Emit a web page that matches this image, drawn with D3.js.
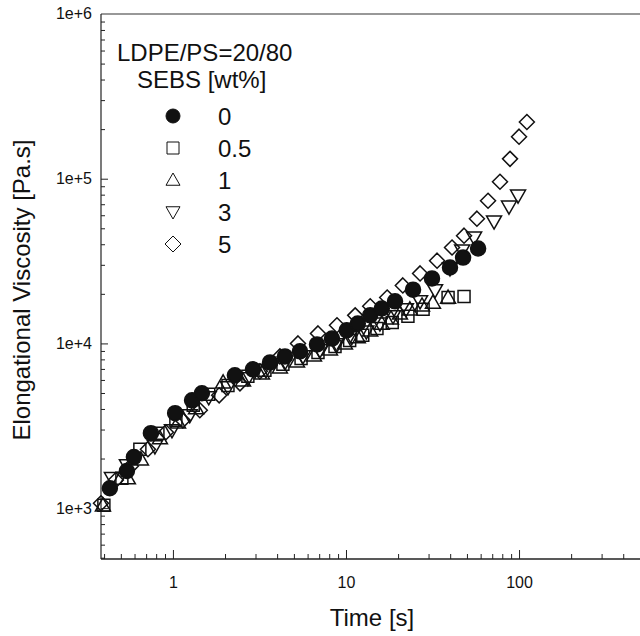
<!DOCTYPE html>
<html>
<head>
<meta charset="utf-8">
<script src="https://cdn.jsdelivr.net/npm/d3@7"></script>
<style>
    body { margin: 0; background: #fff; }
    text { font-family: "Liberation Sans", Arial, sans-serif; fill: #111; }
</style>
</head>
<body>
<script>
// Elongational viscosity vs time, LDPE/PS=20/80 with SEBS

// values
var seriesNames = ["0", "0.5", "1", "3", "5"];

var time0 = [0.432, 0.542, 0.595, 0.746, 1.03, 1.29, 1.47, 2.28, 2.90, 3.64,
    4.44, 5.42, 6.80, 8.30, 10.1, 11.7, 13.8, 16.1, 19.2, 24.4, 31.4, 39.9,
    47.5, 58.0];
var eta0 = [1320, 1680, 2040, 2850, 3770, 4510, 4980, 6400, 6960, 7670,
    8340, 8950, 9860, 10700, 12000, 13200, 14800, 16300, 18000, 21200, 24800,
    28900, 33200, 37700];

var time05 = [0.399, 0.507, 0.644, 0.819, 1.04, 1.31, 1.61, 2.08, 2.71, 3.40,
    4.32, 5.50, 6.89, 8.64, 10.5, 12.5, 15.1, 18.5, 22.8, 27.9, 38.9, 48.1];
var eta05 = [1040, 1520, 2280, 2850, 3410, 4210, 4910, 5560, 6310, 6860,
    7460, 8110, 8820, 9590, 10400, 11200, 12300, 13400, 14600, 16100, 19000,
    19300];

var time1 = [0.394, 0.549, 0.653, 0.841, 1.07, 1.36, 1.95, 2.54, 3.27, 4.15,
    5.21, 6.53, 8.08, 9.86, 11.7, 13.8, 16.1, 18.2, 20.5, 23.4, 27.5, 31.8,
    38.9];
var eta1 = [1040, 1520, 1980, 2660, 3320, 4040, 5800, 5970, 6580, 7160,
    7780, 8460, 9200, 10000, 10900, 12000, 13200, 14200, 15200, 16100, 17000,
    17700, 19000];

var time3 = [0.444, 0.542, 0.787, 0.987, 1.25, 1.61, 2.08, 2.71, 3.45, 4.44,
    5.64, 7.07, 8.87, 10.8, 13.1, 15.7, 18.7, 22.2, 26.8, 32.7, 39.9, 46.9,
    55.0, 71.7, 87.5, 98.7];
var eta3 = [1520, 1820, 2370, 2970, 3660, 4710, 5410, 6140, 6860, 7670,
    8340, 9070, 9860, 10900, 11800, 13200, 14600, 16100, 18000, 21000, 28500,
    36600, 43900, 54900, 67600, 78900];

var time5 = [0.384, 0.468, 0.572, 0.717, 0.911, 1.14, 1.43, 1.85, 2.44, 3.18,
    4.15, 5.28, 6.89, 8.87, 11.3, 13.8, 17.3, 21.3, 26.8, 33.6, 41.0, 48.1,
    57.1, 66.2, 77.6, 88.7, 100, 111];
var eta5 = [1070, 1480, 1800, 2280, 2890, 3410, 3930, 4840, 5720, 6770,
    8340, 10000, 11500, 12900, 14800, 16800, 19000, 22500, 26600, 31800,
    38200, 45100, 57200, 73500, 95900, 132000, 180000, 221000];

var xTicks = [1, 10, 100];
var yTicks = [1e3, 1e4, 1e5, 1e6];
var yTickLabels = ["1e+3", "1e+4", "1e+5", "1e+6"];

// layout
var W = 640, H = 636;
var plot = {left: 101, right: 640, top: 14, bottom: 559};

var svg = d3.select("body").append("svg")
    .attr("width", W)
    .attr("height", H);

var x = d3.scaleLog().domain([0.384, 500]).range([plot.left, plot.right]);
var y = d3.scaleLog().domain([491, 1e6]).range([plot.bottom, plot.top]);

// marker paths, centred on 0,0
function shapePath(kind, s) {
    var h = s / 2;
    if (kind === "circle") {
        return "M" + (-h) + ",0A" + h + "," + h + " 0 1,0 " + h + ",0A" +
            h + "," + h + " 0 1,0 " + (-h) + ",0Z";
    }
    if (kind === "square") {
        return "M" + (-h) + "," + (-h) + "H" + h + "V" + h + "H" + (-h) + "Z";
    }
    if (kind === "up") {
        return "M0," + (-h) + "L" + h + "," + (h * 0.75) + "L" + (-h) + "," +
            (h * 0.75) + "Z";
    }
    if (kind === "down") {
        return "M0," + h + "L" + h + "," + (-h * 0.75) + "L" + (-h) + "," +
            (-h * 0.75) + "Z";
    }
    return "M0," + (-h) + "L" + h + ",0L0," + h + "L" + (-h) + ",0Z";
}

var series = [
    {name: "5", kind: "diamond", t: time5, v: eta5, size: 15, fill: "none"},
    {name: "3", kind: "down", t: time3, v: eta3, size: 15, fill: "none"},
    {name: "1", kind: "up", t: time1, v: eta1, size: 15, fill: "none"},
    {name: "0.5", kind: "square", t: time05, v: eta05, size: 12, fill: "none"},
    {name: "0", kind: "circle", t: time0, v: eta0, size: 15, fill: "#111"}
];

// axes lines
svg.append("line")
    .attr("x1", plot.left).attr("x2", plot.right)
    .attr("y1", plot.bottom).attr("y2", plot.bottom)
    .attr("stroke", "#222").attr("stroke-width", 1.5);
svg.append("line")
    .attr("x1", plot.left).attr("x2", plot.right)
    .attr("y1", plot.top).attr("y2", plot.top)
    .attr("stroke", "#333").attr("stroke-width", 1.2);
svg.append("line")
    .attr("x1", plot.left).attr("x2", plot.left)
    .attr("y1", plot.top).attr("y2", plot.bottom)
    .attr("stroke", "#222").attr("stroke-width", 1.2);

// tick marks point inwards
var xMinor = [];
var yMinor = [];
[0.1, 1, 10, 100].forEach(function(dec) {
    for (var k = 1; k < 10; k++) {
        var v = dec * k;
        if (v > x.domain()[0] && v < x.domain()[1]) xMinor.push(v);
    }
});
[100, 1e3, 1e4, 1e5].forEach(function(dec) {
    for (var k = 1; k < 10; k++) {
        var v = dec * k;
        if (v > y.domain()[0] && v < y.domain()[1]) yMinor.push(v);
    }
});

var xAxis = d3.axisBottom(x).tickValues(xMinor).tickSize(-5)
    .tickFormat(function(d) {
        return xTicks.indexOf(d) >= 0 ? d3.format("d")(d) : "";
    })
    .tickSizeOuter(0);
var gx = svg.append("g")
    .attr("transform", "translate(0," + plot.bottom + ")")
    .call(xAxis);
gx.select(".domain").remove();
gx.selectAll(".tick line")
    .attr("stroke", "#222")
    .attr("y2", function(d) { return xTicks.indexOf(d) >= 0 ? -9 : -5; });
gx.selectAll(".tick text")
    .attr("y", 18)
    .attr("font-size", "16px")
    .attr("fill", "#111");

var yAxis = d3.axisLeft(y).tickValues(yMinor).tickSize(-4)
    .tickFormat(function(d) {
        var i = yTicks.indexOf(d);
        return i >= 0 ? yTickLabels[i] : "";
    })
    .tickSizeOuter(0);
var gy = svg.append("g")
    .attr("transform", "translate(" + plot.left + ",0)")
    .call(yAxis);
gy.select(".domain").remove();
gy.selectAll(".tick line")
    .attr("stroke", "#222")
    .attr("x2", function(d) { return yTicks.indexOf(d) >= 0 ? 7 : 4; });
gy.selectAll(".tick text")
    .attr("x", -9)
    .attr("font-size", "16px")
    .attr("fill", "#111");

// 1e+6 sits on the top border, add it by hand through the scale
svg.append("text")
    .attr("x", plot.left - 9)
    .attr("y", y(1e6))
    .attr("dy", "0.32em")
    .attr("text-anchor", "end")
    .attr("font-size", "16px")
    .text(yTickLabels[3]);

// data points
series.forEach(function(s) {
    var pts = s.t.map(function(t, i) { return {t: t, v: s.v[i]}; });
    svg.append("g").selectAll("path")
        .data(pts)
        .enter()
        .append("path")
        .attr("transform", function(d) {
            return "translate(" + x(d.t) + "," + y(d.v) + ")";
        })
        .attr("d", shapePath(s.kind, s.size))
        .attr("fill", s.fill)
        .attr("stroke", "#111")
        .attr("stroke-width", 1.5);
});

// legend
var legend = svg.append("g");
legend.append("text")
    .attr("x", 117).attr("y", 61)
    .attr("font-size", "24px")
    .text("LDPE/PS=20/80");
legend.append("text")
    .attr("x", 137).attr("y", 88)
    .attr("font-size", "24px")
    .text("SEBS [wt%]");

var legendKinds = ["circle", "square", "up", "down", "diamond"];
var legendSizes = [14, 12, 14, 14, 16];
seriesNames.forEach(function(name, i) {
    var cy = 116 + i * 32;
    legend.append("path")
        .attr("transform", "translate(173," + cy + ")")
        .attr("d", shapePath(legendKinds[i], legendSizes[i]))
        .attr("fill", i === 0 ? "#111" : "none")
        .attr("stroke", "#111")
        .attr("stroke-width", 1);
    legend.append("text")
        .attr("x", 218).attr("y", cy + 9)
        .attr("font-size", "24px")
        .text(name);
});

// axis titles
svg.append("text")
    .attr("x", 372).attr("y", 626)
    .attr("text-anchor", "middle")
    .attr("font-size", "24px")
    .text("Time [s]");

svg.append("text")
    .attr("transform", "translate(30,290) rotate(-90)")
    .attr("text-anchor", "middle")
    .attr("font-size", "24px")
    .text("Elongational Viscosity [Pa.s]");
</script>
</body>
</html>
